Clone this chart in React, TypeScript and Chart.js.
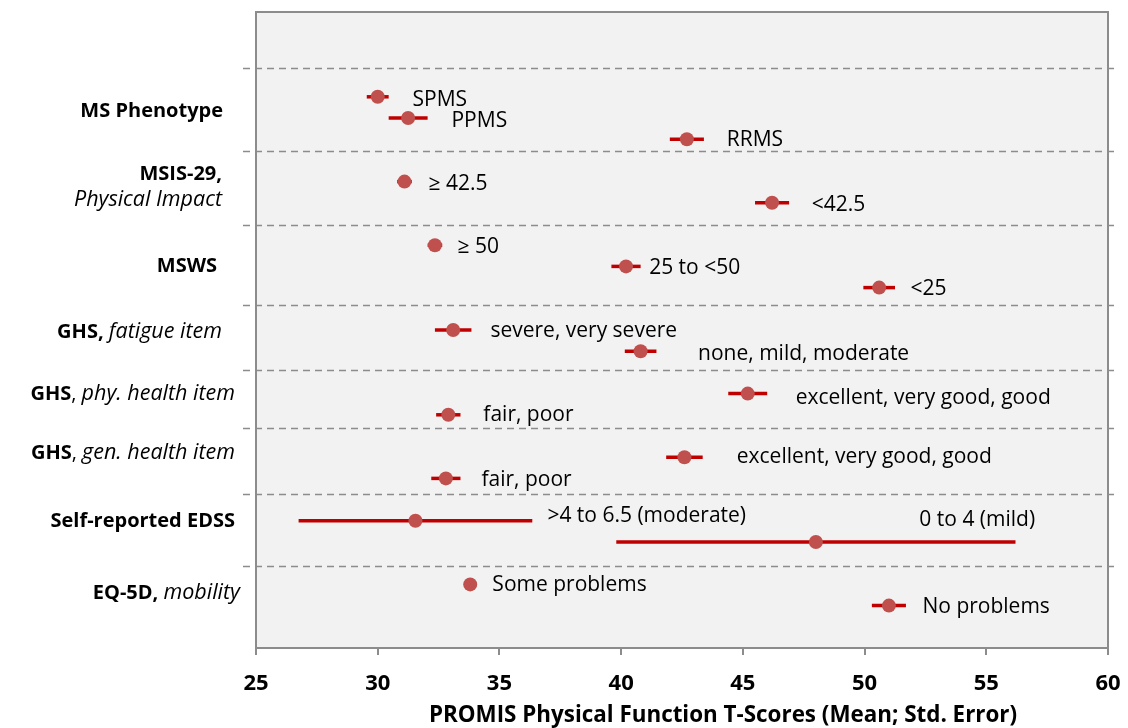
import React, { useEffect, useRef } from "react";
import { Chart, registerables } from "chart.js";

Chart.register(...registerables);

// ---- Data ----
const pointLabels = [
  "SPMS", "PPMS", "RRMS",
  "≥ 42.5", "<42.5",
  "≥ 50", "25 to <50", "<25",
  "severe, very severe", "none, mild, moderate",
  "excellent, very good, good", "fair, poor",
  "excellent, very good, good", "fair, poor",
  ">4 to 6.5 (moderate)", "0 to 4 (mild)",
  "Some problems", "No problems",
];
const means = [30.0, 31.25, 42.7, 31.1, 46.2, 32.35, 40.2, 50.6, 33.1, 40.8, 45.2, 32.9, 42.6, 32.8, 31.55, 48.0, 33.8, 51.0];
const stdErrors = [0.45, 0.8, 0.7, 0.3, 0.7, 0.3, 0.6, 0.65, 0.75, 0.65, 0.8, 0.5, 0.75, 0.6, 4.8, 8.2, 0.2, 0.7];
const rows = [4, 5, 6, 8, 9, 11, 12, 13, 15, 16, 18, 19, 21, 22, 24, 25, 27, 28];
const labelX = [31.43, 33.03, 44.34, 32.09, 47.83, 33.28, 41.15, 51.89, 34.63, 43.16, 47.17, 34.34, 44.75, 34.26, 36.97, 52.25, 34.71, 52.38];
const labelRow = [4.15, 5.14, 6.04, 8.11, 9.1, 11.08, 12.08, 13.07, 15.05, 16.13, 18.2, 19.0, 20.99, 22.08, 23.77, 23.96, 27.03, 28.07];
const separatorRows = [2.64, 6.56, 10.05, 13.8, 16.9, 19.6, 22.74, 26.13];
const xTicks = [25, 30, 35, 40, 45, 50, 55, 60];
const axisTitle = "PROMIS Physical Function T-Scores (Mean; Std. Error)";

// group labels: segments [text, style] ; style b=bold, i=italic, n=normal
type Seg = [string, string];
const groupLabels: { row: number; right: number; segs: Seg[] }[] = [
  { row: 4.67, right: 223, segs: [["MS Phenotype", "b"]] },
  { row: 7.64, right: 222, segs: [["MSIS-29,", "b"]] },
  { row: 8.84, right: 222, segs: [["Physical Impact", "i"]] },
  { row: 11.98, right: 217, segs: [["MSWS", "b"]] },
  { row: 15.09, right: 222, segs: [["GHS, ", "b"], ["fatigue item", "i"]] },
  { row: 18.02, right: 235, segs: [["GHS", "b"], [", ", "n"], ["phy. health item", "i"]] },
  { row: 20.8, right: 235, segs: [["GHS", "b"], [", ", "n"], ["gen. health item", "i"]] },
  { row: 24.0, right: 235, segs: [["Self-reported EDSS", "b"]] },
  { row: 27.41, right: 240, segs: [["EQ-5D, ", "b"], ["mobility", "i"]] },
];

const FONT = "'Open Sans', Lato, sans-serif";

const decorPlugin = {
  id: "decor",
  beforeDraw(chart: any) {
    const { ctx, chartArea: a } = chart;
    ctx.save();
    ctx.fillStyle = "#f2f2f2";
    ctx.fillRect(a.left, a.top, a.right - a.left, a.bottom - a.top);
    ctx.restore();
  },
  beforeDatasetsDraw(chart: any) {
    const { ctx, chartArea: a, scales } = chart;
    const ys = scales.y;
    const xs = scales.x;
    ctx.save();
    // border
    ctx.strokeStyle = "#8c8c8c";
    ctx.lineWidth = 2;
    ctx.strokeRect(a.left, a.top, a.right - a.left, a.bottom - a.top);
    // separators
    ctx.strokeStyle = "#8c8c8c";
    ctx.lineWidth = 1.5;
    ctx.setLineDash([7, 5]);
    for (const r of separatorRows) {
      const y = Math.round(ys.getPixelForValue(r)) + 0.5;
      ctx.beginPath();
      ctx.moveTo(a.left - 13, y);
      ctx.lineTo(a.right + 7, y);
      ctx.stroke();
    }
    ctx.setLineDash([]);
    // error bars
    ctx.strokeStyle = "#c00000";
    ctx.lineWidth = 3.5;
    for (let i = 0; i < means.length; i++) {
      const y = ys.getPixelForValue(rows[i]);
      ctx.beginPath();
      ctx.moveTo(xs.getPixelForValue(means[i] - stdErrors[i]), y);
      ctx.lineTo(xs.getPixelForValue(means[i] + stdErrors[i]), y);
      ctx.stroke();
    }
    ctx.restore();
  },
  afterDatasetsDraw(chart: any) {
    const { ctx, chartArea: a, scales } = chart;
    const ys = scales.y;
    const xs = scales.x;
    ctx.save();
    ctx.fillStyle = "#000";
    ctx.textBaseline = "middle";
    ctx.textAlign = "left";
    ctx.font = `21px ${FONT}`;
    for (let i = 0; i < pointLabels.length; i++) {
      ctx.fillText(pointLabels[i], xs.getPixelForValue(labelX[i]), ys.getPixelForValue(labelRow[i]));
    }
    // group labels
    for (const g of groupLabels) {
      const fonts = g.segs.map(([, s]) =>
        s === "b" ? `bold 20px ${FONT}` : s === "i" ? `italic 21.5px ${FONT}` : `20px ${FONT}`
      );
      let total = 0;
      const widths = g.segs.map(([t], k) => {
        ctx.font = fonts[k];
        const w = ctx.measureText(t).width;
        total += w;
        return w;
      });
      let x = g.right - total;
      const y = ys.getPixelForValue(g.row);
      g.segs.forEach(([t], k) => {
        ctx.font = fonts[k];
        ctx.fillText(t, x, y);
        x += widths[k];
      });
    }
    // axis title
    ctx.font = `bold 22.4px ${FONT}`;
    ctx.textAlign = "center";
    ctx.fillText(axisTitle, (a.left + a.right) / 2 + 41, a.bottom + 68);
    ctx.restore();
  },
};

export default function App() {
  const ref = useRef<HTMLCanvasElement>(null);
  useEffect(() => {
    if (!ref.current) return;
    const chart = new Chart(ref.current, {
      type: "scatter",
      data: {
        datasets: [
          {
            data: means.map((m, i) => ({ x: m, y: rows[i] })),
            pointRadius: 7,
            pointBackgroundColor: "#c0504d",
            pointBorderWidth: 0,
            showLine: false,
          },
        ],
      },
      options: {
        responsive: false,
        animation: false,
        events: [],
        layout: { padding: { left: 256, right: 20, top: 12, bottom: 0 } },
        plugins: { legend: { display: false }, tooltip: { enabled: false } },
        scales: {
          x: {
            type: "linear",
            min: 25,
            max: 60,
            afterBuildTicks: (s: any) => {
              s.ticks = xTicks.map((v) => ({ value: v }));
            },
            afterFit: (s: any) => {
              s.height = 80;
              s.paddingLeft = 0;
              s.paddingRight = 0;
            },
            border: { display: false },
            grid: {
              drawOnChartArea: false,
              drawTicks: true,
              tickLength: 7,
              color: "#8c8c8c",
              lineWidth: 2,
            },
            ticks: {
              color: "#000",
              font: { family: FONT, size: 22, weight: "bold" },
              padding: 16,
              maxRotation: 0,
            },
          },
          y: {
            type: "linear",
            min: 0,
            max: 30,
            reverse: true,
            display: false,
          },
        },
      },
      plugins: [decorPlugin],
    } as any);
    return () => chart.destroy();
  }, []);
  return (
    <div style={{ position: "fixed", left: 0, top: 0, width: 1128, height: 728, background: "#fff" }}>
      <canvas ref={ref} width={1128} height={728} style={{ width: 1128, height: 728, display: "block" }} />
    </div>
  );
}
